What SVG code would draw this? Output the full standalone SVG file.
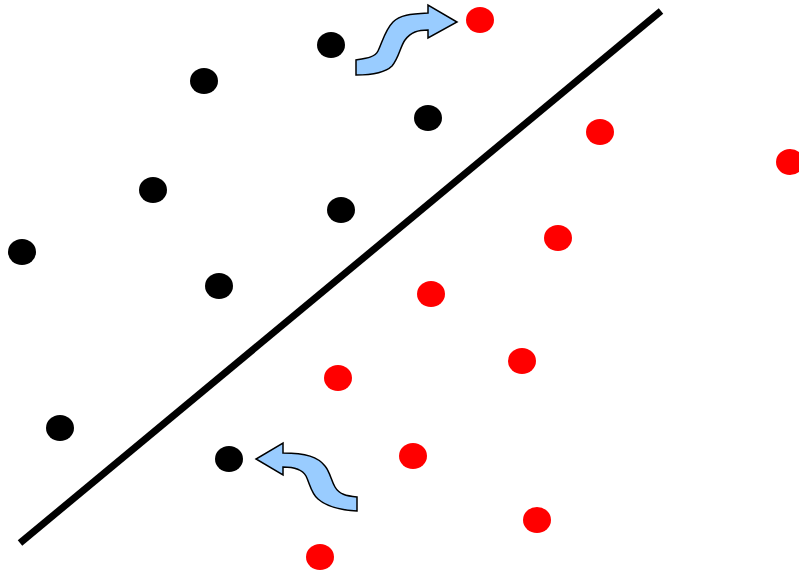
<svg xmlns="http://www.w3.org/2000/svg" width="799" height="575" viewBox="0 0 799 575">
<style>
.b{fill:#000}
.r{fill:#ff0000}
.arr{fill:#99ccff;stroke:#000;stroke-width:1.5;stroke-linejoin:miter}
</style>
<rect width="799" height="575" fill="#fff"/>
<g id="connectors">
<line x1="20" y1="543" x2="661" y2="11" stroke="#000" stroke-width="7"/>
<path id="arrow-top" class="arr" d="M356,60 C368,58 375,57 378,51 C382,43 385,30 393,22 C400,15 410,14 428,13 L428,5 L457,22 L428,38 L428,30 C418,30 411,32 405,40 C400,47 399,58 392,66 C385,73 372,75 356,75 Z"/>
<path id="arrow-bottom" class="arr" d="M357,497 C346,496 339,494 335,487 C331,480 330,472 325,466 C318,457 306,453 283,453 L283,443 L256,459 L283,475 L283,467 C294,467 302,469 306,476 C310,484 311,493 318,499 C327,507 340,510 357,511 Z"/>
</g>
<g id="black-points">
<ellipse id="b1" class="b" cx="331" cy="45" rx="14" ry="13"/>
<ellipse id="b2" class="b" cx="204" cy="81" rx="14" ry="13"/>
<ellipse id="b3" class="b" cx="428" cy="118" rx="14" ry="13"/>
<ellipse id="b4" class="b" cx="153" cy="190" rx="14" ry="13"/>
<ellipse id="b5" class="b" cx="341" cy="210" rx="14" ry="13"/>
<ellipse id="b6" class="b" cx="22" cy="252" rx="14" ry="13"/>
<ellipse id="b7" class="b" cx="219" cy="286" rx="14" ry="13"/>
<ellipse id="b8" class="b" cx="60" cy="428" rx="14" ry="13"/>
<ellipse id="b9" class="b" cx="229" cy="459" rx="14" ry="13"/>
</g>
<g id="red-points">
<ellipse id="r1" class="r" cx="480" cy="20" rx="14" ry="13"/>
<ellipse id="r2" class="r" cx="600" cy="132" rx="14" ry="13"/>
<ellipse id="r3" class="r" cx="790" cy="162" rx="14" ry="13"/>
<ellipse id="r4" class="r" cx="558" cy="238" rx="14" ry="13"/>
<ellipse id="r5" class="r" cx="431" cy="294" rx="14" ry="13"/>
<ellipse id="r6" class="r" cx="522" cy="361" rx="14" ry="13"/>
<ellipse id="r7" class="r" cx="338" cy="378" rx="14" ry="13"/>
<ellipse id="r8" class="r" cx="413" cy="456" rx="14" ry="13"/>
<ellipse id="r9" class="r" cx="537" cy="520" rx="14" ry="13"/>
<ellipse id="r10" class="r" cx="320" cy="557" rx="14" ry="13"/>
</g>
</svg>
